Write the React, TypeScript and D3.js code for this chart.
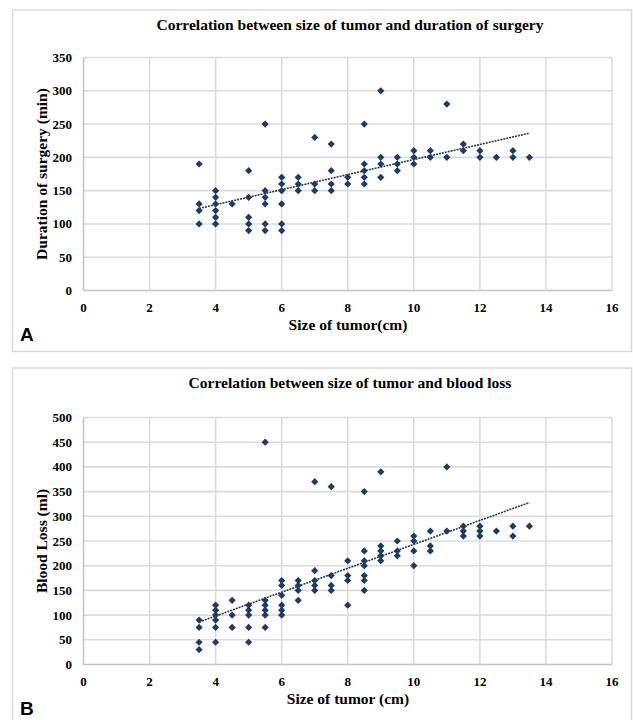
import React from 'react';
import * as d3 from 'd3';

// tumour size (cm) and duration of surgery (min), panel A
const sizeA = [
  3.5, 3.5, 3.5, 3.5,
  4, 4, 4, 4, 4, 4,
  4.5,
  5, 5, 5, 5, 5,
  5.5, 5.5, 5.5, 5.5, 5.5, 5.5,
  6, 6, 6, 6, 6, 6,
  6.5, 6.5, 6.5,
  7, 7, 7,
  7.5, 7.5, 7.5, 7.5,
  8, 8,
  8.5, 8.5, 8.5, 8.5, 8.5,
  9, 9, 9, 9,
  9.5, 9.5, 9.5,
  10, 10, 10,
  10.5, 10.5,
  11, 11,
  11.5, 11.5,
  12, 12,
  12.5,
  13, 13,
  13.5,
];
const durationA = [
  190, 130, 120, 100,
  150, 140, 130, 120, 110, 100,
  130,
  180, 140, 110, 100, 90,
  250, 150, 140, 130, 100, 90,
  170, 160, 150, 130, 100, 90,
  170, 160, 150,
  230, 160, 150,
  220, 180, 160, 150,
  170, 160,
  250, 190, 180, 170, 160,
  300, 200, 190, 170,
  200, 190, 180,
  210, 200, 190,
  210, 200,
  280, 200,
  220, 210,
  210, 200,
  200,
  210, 200,
  200,
];

// tumour size (cm) and blood loss (ml), panel B
const sizeB = [
  3.5, 3.5, 3.5, 3.5,
  4, 4, 4, 4, 4, 4,
  4.5, 4.5, 4.5,
  5, 5, 5, 5, 5,
  5.5, 5.5, 5.5, 5.5, 5.5, 5.5,
  6, 6, 6, 6, 6, 6,
  6.5, 6.5, 6.5, 6.5,
  7, 7, 7, 7, 7,
  7.5, 7.5, 7.5, 7.5,
  8, 8, 8, 8,
  8.5, 8.5, 8.5, 8.5, 8.5, 8.5, 8.5,
  9, 9, 9, 9, 9,
  9.5, 9.5, 9.5,
  10, 10, 10, 10,
  10.5, 10.5, 10.5,
  11, 11,
  11.5, 11.5, 11.5,
  12, 12, 12,
  12.5,
  13, 13,
  13.5,
];
const bloodLossB = [
  90, 75, 45, 30,
  120, 110, 100, 90, 75, 45,
  130, 100, 75,
  120, 110, 100, 75, 45,
  450, 130, 120, 110, 100, 75,
  170, 160, 140, 120, 110, 100,
  170, 160, 150, 130,
  370, 190, 170, 160, 150,
  360, 180, 160, 150,
  210, 180, 170, 120,
  350, 230, 210, 200, 180, 170, 150,
  390, 240, 230, 220, 210,
  250, 230, 220,
  260, 250, 230, 200,
  270, 240, 230,
  400, 270,
  280, 270, 260,
  280, 270, 260,
  270,
  280, 260,
  280,
];

const xTicks = [0, 2, 4, 6, 8, 10, 12, 14, 16];
const yTicksA = [0, 50, 100, 150, 200, 250, 300, 350];
const yTicksB = [0, 50, 100, 150, 200, 250, 300, 350, 400, 450, 500];

const serifStyle = { fontFamily: '"Liberation Serif", "Times New Roman", Times, serif', fontWeight: 700 };
const navy = '#1f3b63';

function fitLine(xs, ys) {
  const mx = d3.mean(xs);
  const my = d3.mean(ys);
  let num = 0, den = 0;
  xs.forEach((x, i) => {
    num += (x - mx) * (ys[i] - my);
    den += (x - mx) * (x - mx);
  });
  const slope = num / den;
  return (x) => my + slope * (x - mx);
}

function Panel({ top, height, title, xs, ys, yTicks, yLabel, xLabel, letter, plotTop, plotBottom }) {
  const x = d3.scaleLinear().domain([0, 16]).range([83.5, 612]);
  const y = d3.scaleLinear().domain([0, d3.max(yTicks)]).range([plotBottom, plotTop]);
  const trend = fitLine(xs, ys);
  const [x0, x1] = d3.extent(xs);
  const marker = d3.symbol().type(d3.symbolSquare).size(26)();

  return (
    <g>
      <rect x={12.5} y={top} width={619} height={height} fill="#fff" stroke="#d9d9d9" strokeWidth={1.5} />
      <text x={350} y={top + 20} textAnchor="middle" style={{ ...serifStyle, fontSize: 15.5 }}>{title}</text>

      {yTicks.map(t => (
        <g key={'y' + t}>
          <line x1={x(0)} x2={x(16)} y1={y(t)} y2={y(t)} stroke={t === 0 ? '#c4c4c4' : '#dcdcdc'} strokeWidth={1.6} />
          <text x={72} y={y(t) + 4.5} textAnchor="end" style={{ ...serifStyle, fontSize: 13 }}>{t}</text>
        </g>
      ))}
      {xTicks.map(t => (
        <g key={'x' + t}>
          <line x1={x(t)} x2={x(t)} y1={plotTop} y2={plotBottom} stroke={t === 0 ? '#c4c4c4' : '#dcdcdc'} strokeWidth={1.6} />
          <text x={x(t)} y={plotBottom + 21.5} textAnchor="middle" style={{ ...serifStyle, fontSize: 13 }}>{t}</text>
        </g>
      ))}

      {xs.map((v, i) => (
        <path key={i} d={marker} transform={`translate(${x(v)},${y(ys[i])}) rotate(45)`} fill={navy} />
      ))}
      <line x1={x(x0)} y1={y(trend(x0))} x2={x(x1)} y2={y(trend(x1))} stroke="#2b3a4f" strokeWidth={1.6} strokeDasharray="2,1" />

      <text transform={`translate(47,${(plotTop + plotBottom) / 2}) rotate(-90)`} textAnchor="middle" style={{ ...serifStyle, fontSize: 15.5 }}>{yLabel}</text>
      <text x={348} y={plotBottom + 39} textAnchor="middle" style={{ ...serifStyle, fontSize: 15.5 }}>{xLabel}</text>
      <text x={20} y={plotBottom + 50} style={{ fontFamily: '"Liberation Sans", Arial, sans-serif', fontWeight: 700, fontSize: 19 }}>{letter}</text>
    </g>
  );
}

export default function App() {
  return (
    <div style={{ position: 'absolute', left: 0, top: 0 }}>
      <svg width={633} height={720} style={{ display: 'block', background: '#fff' }}>
        <Panel
          top={10} height={341.5}
          title="Correlation between size of tumor and duration of surgery"
          xs={sizeA} ys={durationA} yTicks={yTicksA}
          yLabel="Duration of surgery (min)" xLabel="Size of tumor(cm)" letter="A"
          plotTop={57.5} plotBottom={290.5}
        />
        <Panel
          top={368} height={360}
          title="Correlation between size of tumor and blood loss"
          xs={sizeB} ys={bloodLossB} yTicks={yTicksB}
          yLabel="Blood Loss (ml)" xLabel="Size of tumor (cm)" letter="B"
          plotTop={417.5} plotBottom={664.5}
        />
      </svg>
    </div>
  );
}
